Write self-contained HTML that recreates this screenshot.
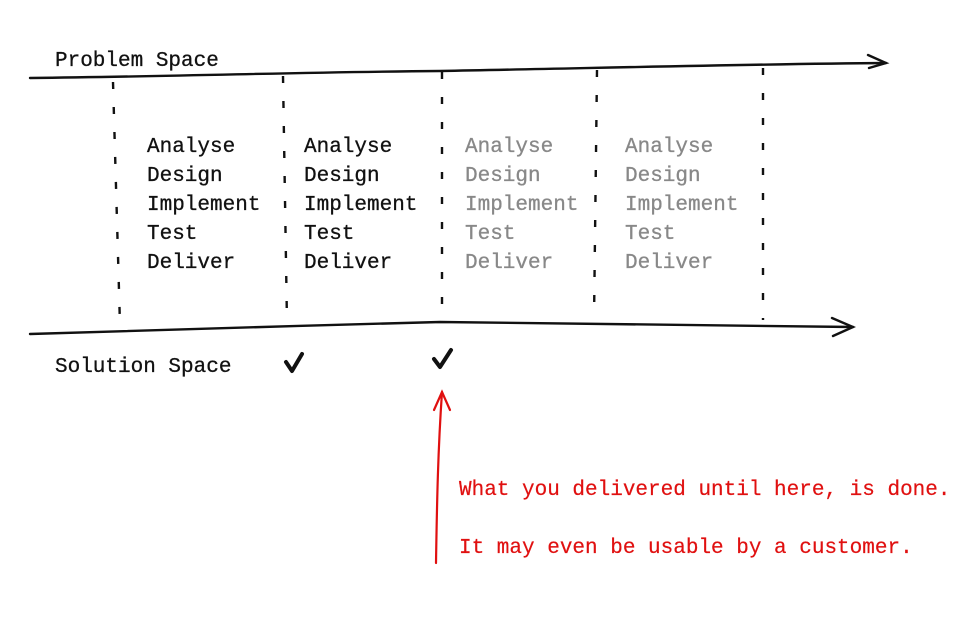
<!DOCTYPE html>
<html><head><style>
body{margin:0;background:#fff;}
svg text{font-family:"Liberation Mono",monospace;font-size:21px;}
</style></head><body>
<svg width="969" height="613" viewBox="0 0 969 613" xmlns="http://www.w3.org/2000/svg">
<rect width="969" height="613" fill="#fff"/>
<g fill="none" stroke="#111" stroke-width="2.4" stroke-linecap="round">
<path d="M30 78 C200 76 300 72 440 71 C600 68 750 64 886 63"/>
<path d="M868 55 L886 63 L869 68"/>
<path d="M30 334 C200 330 300 325 440 322 C600 325 750 325 853 327"/>
<path d="M832 318 L853 327 L833 336"/>
</g>
<g fill="none" stroke="#111" stroke-width="2.4" stroke-dasharray="7 18">
<path d="M113 82 L120 325"/>
<path d="M283 76 L287 323"/>
<path d="M442 72 L442 322"/>
<path d="M597 70 L594 320"/>
<path d="M763 68 L763 320"/>
</g>
<g stroke-width="0.3">
<text x="55" y="66" fill="#111" stroke="#111">Problem Space</text>
<text x="55" y="372" fill="#111" stroke="#111">Solution Space</text>
<g fill="#111" stroke="#111">
<text x="147" y="152">Analyse</text><text x="147" y="181">Design</text><text x="147" y="210">Implement</text><text x="147" y="239">Test</text><text x="147" y="268">Deliver</text>
<text x="304" y="152">Analyse</text><text x="304" y="181">Design</text><text x="304" y="210">Implement</text><text x="304" y="239">Test</text><text x="304" y="268">Deliver</text>
</g>
<g fill="#888" stroke="#888">
<text x="465" y="152">Analyse</text><text x="465" y="181">Design</text><text x="465" y="210">Implement</text><text x="465" y="239">Test</text><text x="465" y="268">Deliver</text>
<text x="625" y="152">Analyse</text><text x="625" y="181">Design</text><text x="625" y="210">Implement</text><text x="625" y="239">Test</text><text x="625" y="268">Deliver</text>
</g>
</g>
<g fill="none" stroke="#111" stroke-width="4" stroke-linecap="round" stroke-linejoin="round">
<path d="M286 362 L292 371 L302 354"/>
<path d="M434 359 L440 367 L451 350"/>
</g>
<g fill="none" stroke="#e01010" stroke-width="2.2" stroke-linecap="round">
<path d="M436 563 C437 500 438 450 442 392"/>
<path d="M434 410 L442 392 L450 410"/>
</g>
<g fill="#e01010" stroke="#e01010" stroke-width="0.2">
<text x="459" y="495">What you delivered until here, is done.</text>
<text x="459" y="553">It may even be usable by a customer.</text>
</g>
</svg>
</body></html>
